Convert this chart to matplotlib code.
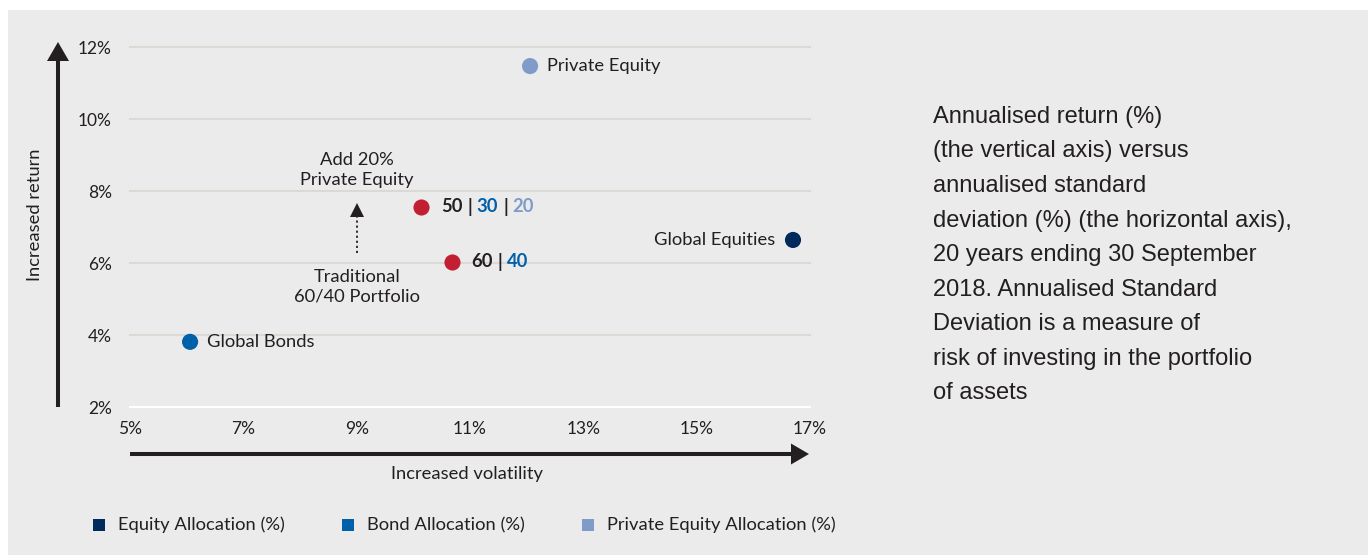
import matplotlib
matplotlib.use("Agg")
import matplotlib.pyplot as plt
from matplotlib.patches import Rectangle, Polygon

# ---------------- data ----------------
assets = ["Private Equity", "Global Equities", "Global Bonds"]
asset_vol = [12.06, 16.70, 6.06]
asset_ret = [11.47, 6.64, 3.81]
asset_colors = ["#7f9cc8", "#002a5c", "#0060aa"]

portfolio_vol = [10.14, 10.68]
portfolio_ret = [7.56, 6.03]
portfolio_alloc = [["50", "30", "20"], ["60", "40"]]
alloc_colors = ["#231f20", "#0060aa", "#7f9cc8"]

x_ticks = [5, 7, 9, 11, 13, 15, 17]
y_ticks = [2, 4, 6, 8, 10, 12]

legend_labels = ["Equity Allocation (%)", "Bond Allocation (%)", "Private Equity Allocation (%)"]
legend_colors = ["#002a5c", "#0060aa", "#7f9cc8"]

note_lines = [
    "Annualised return (%)",
    "(the vertical axis) versus",
    "annualised standard",
    "deviation (%) (the horizontal axis),",
    "20 years ending 30 September",
    "2018. Annualised Standard",
    "Deviation is a measure of",
    "risk of investing in the portfolio",
    "of assets",
]

TXT = "#231f20"
RED = "#c21f32"
FONT = "Lato"
FS = 13.2
W, H = 1370, 555

fig = plt.figure(figsize=(W / 100, H / 100), dpi=100, facecolor="white")

# ---------------- decoration layer (pixel coordinates) ----------------
deco = fig.add_axes([0, 0, 1, 1], zorder=0)
deco.set_xlim(0, W)
deco.set_ylim(H, 0)
deco.axis("off")
deco.add_patch(Rectangle((8, 10), 1360, 545, facecolor="#ebebeb", edgecolor="none"))

# vertical arrow
deco.plot([58, 58], [407, 58], color=TXT, lw=2.9, solid_capstyle="butt")
deco.add_patch(Polygon([(47, 61), (69, 61), (58, 42)], closed=True, facecolor=TXT, edgecolor="none"))
# horizontal arrow
deco.plot([130, 793], [454, 454], color=TXT, lw=2.9, solid_capstyle="butt")
deco.add_patch(Polygon([(791, 443.5), (791, 464.5), (809, 454)], closed=True, facecolor=TXT, edgecolor="none"))

deco.text(35, 215, "Increased return", rotation=90, ha="center", va="center",
          fontsize=FS, color=TXT, family=FONT)
deco.text(467, 474, "Increased volatility", ha="center", va="center",
          fontsize=FS, color=TXT, family=FONT)

# legend
leg_x = [99, 348, 588]
for lx, lab, col in zip(leg_x, legend_labels, legend_colors):
    deco.scatter([lx], [525], marker="s", s=85, color=col, linewidths=0)
    deco.text(lx + 19, 525, lab, ha="left", va="center", fontsize=FS, color=TXT, family=FONT)

# right-hand note
for i, line in enumerate(note_lines):
    deco.text(933, 117 + i * 34.5, line, ha="left", va="center", fontsize=17,
              color=TXT, family="Liberation Sans")

# ---------------- main chart ----------------
ax = fig.add_axes([130 / W, 1 - 407 / H, 680 / W, 360 / H], zorder=1)
ax.set_facecolor("none")
ax.set_xlim(5, 17)
ax.set_ylim(2, 12)
for s in ax.spines.values():
    s.set_visible(False)
ax.set_xticks(x_ticks)
ax.set_yticks(y_ticks)
ax.set_xticklabels([f"{v}%" for v in x_ticks])
ax.set_yticklabels([f"{v}%" for v in y_ticks])
ax.tick_params(length=0, labelsize=12.5, labelcolor=TXT)
ax.tick_params(axis="y", pad=13)
ax.tick_params(axis="x", pad=10)
for lab in ax.get_xticklabels() + ax.get_yticklabels():
    lab.set_family(FONT)
for yv in y_ticks:
    ax.axhline(yv, color="white" if yv == 2 else "#dcd8d4", lw=1.5, zorder=0.5, clip_on=False)

# asset points
ax.scatter(asset_vol, asset_ret, s=135, c=asset_colors, linewidths=0, zorder=3)
for name, xv, yv in zip(assets, asset_vol, asset_ret):
    if name == "Global Equities":
        ax.annotate(name, (xv, yv), xytext=(-13, 0), textcoords="offset points",
                    ha="right", va="center", fontsize=FS, color=TXT, family=FONT)
    else:
        ax.annotate(name, (xv, yv), xytext=(12, 0), textcoords="offset points",
                    ha="left", va="center", fontsize=FS, color=TXT, family=FONT)

# portfolio points
ax.scatter(portfolio_vol, portfolio_ret, s=135, c=RED, linewidths=0, zorder=3)
for xv, yv, alloc in zip(portfolio_vol, portfolio_ret, portfolio_alloc):
    prev = ax.annotate(alloc[0], (xv, yv), xytext=(14, 0), textcoords="offset points",
                       ha="left", va="center", fontsize=FS, fontweight="bold",
                       color=alloc_colors[0], family=FONT)
    for j in range(1, len(alloc)):
        bar = ax.annotate("|", xy=(1, 0.5), xycoords=prev, xytext=(3.5, 0),
                          textcoords="offset points", ha="left", va="center",
                          fontsize=FS, fontweight="bold", color=TXT, family=FONT)
        prev = ax.annotate(alloc[j], xy=(1, 0.5), xycoords=bar, xytext=(3.5, 0),
                           textcoords="offset points", ha="left", va="center",
                           fontsize=FS, fontweight="bold", color=alloc_colors[j], family=FONT)

# "Add 20% Private Equity" dotted arrow
arrow_x = 9.0
ax.plot([arrow_x, arrow_x], [6.28, 7.27], color=TXT, lw=1.3, linestyle=(0, (1.2, 1.6)), zorder=2)
ax.plot([arrow_x], [7.48], marker="^", markersize=10, color=TXT, markeredgewidth=0, zorder=2)
ax.text(arrow_x, 8.58, "Add 20%\nPrivate Equity", ha="center", va="center",
        fontsize=FS, color=TXT, family=FONT, linespacing=1.25)
ax.text(arrow_x, 5.33, "Traditional\n60/40 Portfolio", ha="center", va="center",
        fontsize=FS, color=TXT, family=FONT, linespacing=1.25)

fig.savefig("out.png", dpi=100, facecolor="white")
